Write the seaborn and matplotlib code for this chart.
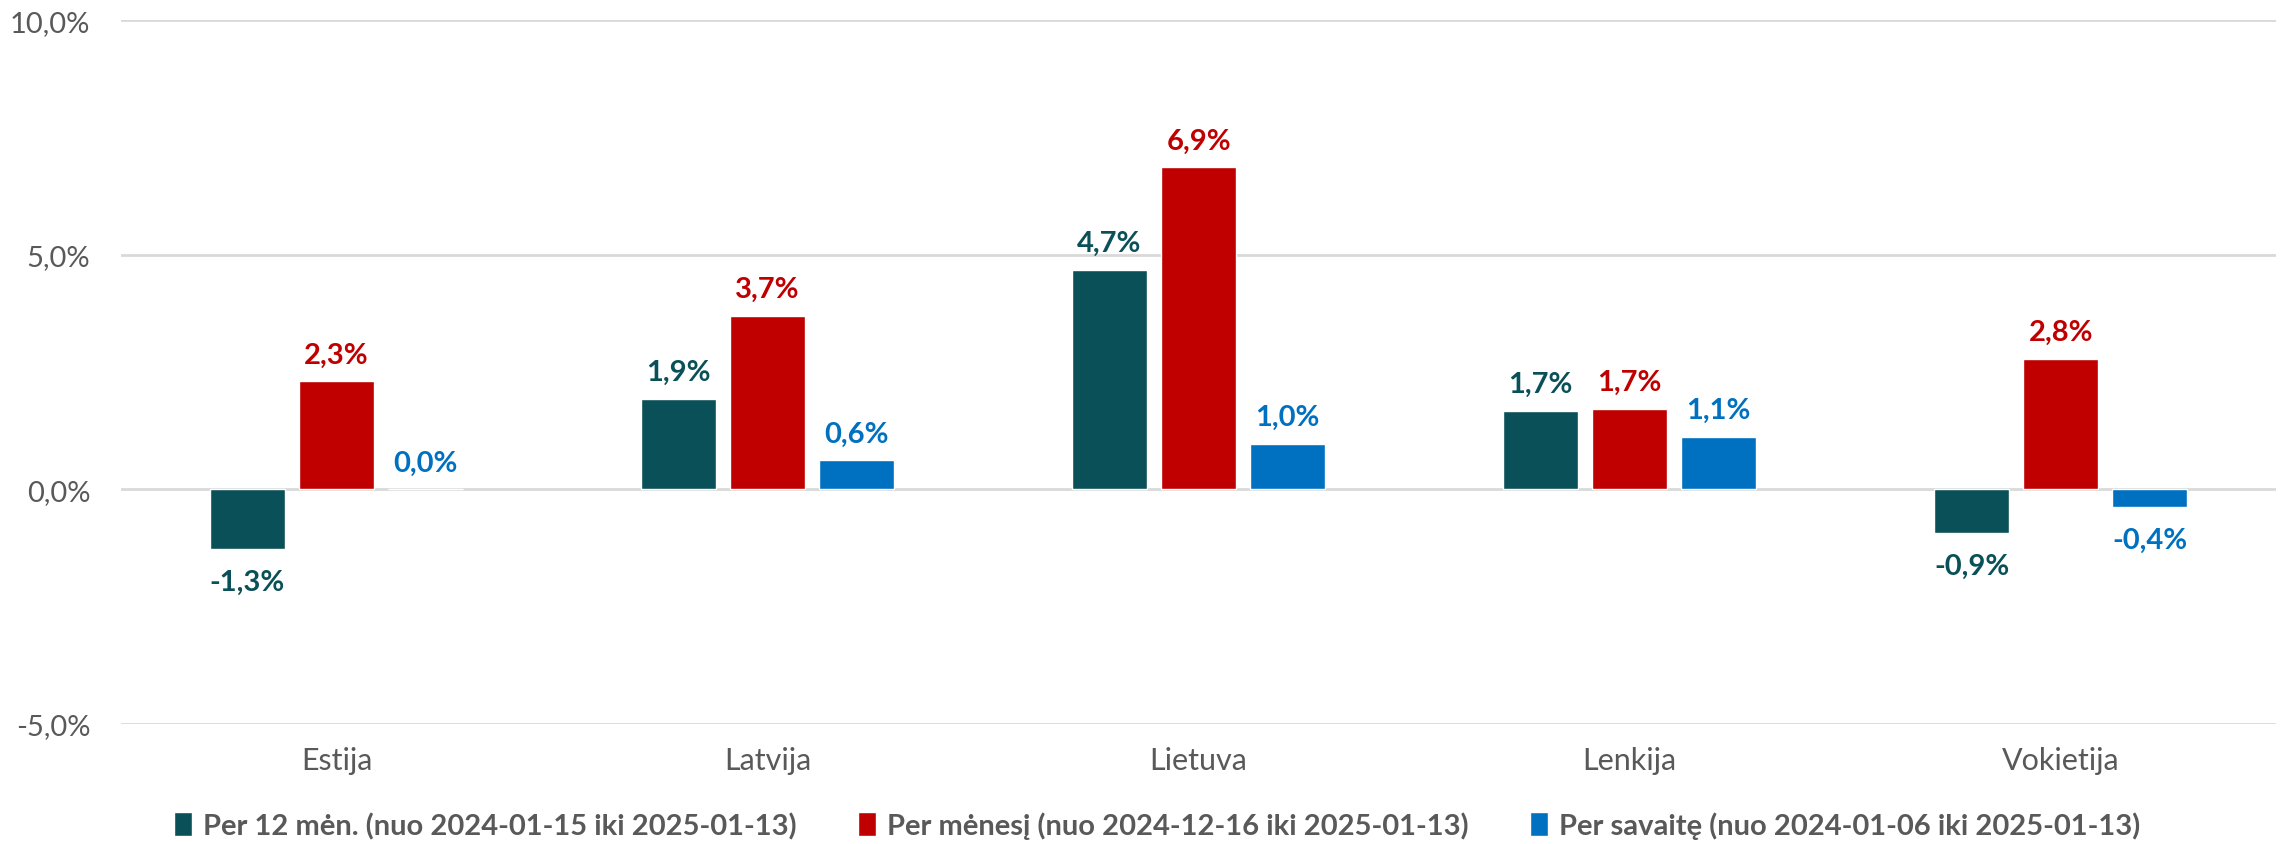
import pandas as pd
import matplotlib.pyplot as plt
import seaborn as sns

# data
countries = ["Estija", "Latvija", "Lietuva", "Lenkija", "Vokietija"]
series_names = [
    "Per 12 mėn. (nuo 2024-01-15 iki 2025-01-13)",
    "Per mėnesį (nuo 2024-12-16 iki 2025-01-13)",
    "Per savaitę (nuo 2024-01-06 iki 2025-01-13)",
]
per_12m = [-1.27, 1.93, 4.68, 1.68, -0.93]
per_month = [2.30, 3.70, 6.86, 1.72, 2.78]
per_week = [0.0, 0.62, 0.97, 1.12, -0.38]
colors = ["#0A5058", "#C00000", "#0070C0"]

rows = []
for name, vals in zip(series_names, [per_12m, per_month, per_week]):
    for c, v in zip(countries, vals):
        rows.append({"Šalis": c, "Serija": name, "Pokytis": v})
df = pd.DataFrame(rows)

sns.set_style("white")
plt.rcParams["font.family"] = ["Lato", "DejaVu Sans"]

fig = plt.figure(figsize=(22.83, 8.45), dpi=100)
ax = fig.add_axes([0.053, 0.142, 0.944, 0.833])

sns.barplot(data=df, x="Šalis", y="Pokytis", hue="Serija", palette=colors,
            width=0.62, gap=0.16, saturation=1, ax=ax, legend=True)

ax.set_ylim(-5, 10)
ax.set_yticks([-5, 0, 5, 10])
ax.set_yticklabels(["-5,0%", "0,0%", "5,0%", "10,0%"])
ax.yaxis.grid(True, color="#D9D9D9", linewidth=2)
ax.set_axisbelow(True)
ax.set_xlabel("")
ax.set_ylabel("")
ax.tick_params(axis="both", length=0, labelsize=22, labelcolor="#595959")
ax.tick_params(axis="y", labelsize=21, pad=22)
ax.tick_params(axis="x", pad=16)
for s in ax.spines.values():
    s.set_visible(False)

for cont, col in zip(ax.containers, colors):
    vals = cont.datavalues
    labels = [f"{v:.1f}%".replace(".", ",") for v in vals]
    anns = ax.bar_label(cont, labels=labels, padding=10, color=col,
                        fontsize=21, fontweight="bold")
    # negative labels sit a little further below the bar in the reference
    for a, v in zip(anns, vals):
        if v < 0:
            a.xyann = (0, -14)

handles, labs = ax.get_legend_handles_labels()
ax.get_legend().remove()
leg = fig.legend(handles, labs, loc="center", bbox_to_anchor=(0.507, 0.022),
                 ncol=3, frameon=False, handlelength=0.6,
                 handleheight=0.9, handletextpad=0.4, columnspacing=2.1,
                 prop={"weight": "bold", "size": 21})
for t in leg.get_texts():
    t.set_color("#595959")

fig.savefig("out.png", dpi=100)
